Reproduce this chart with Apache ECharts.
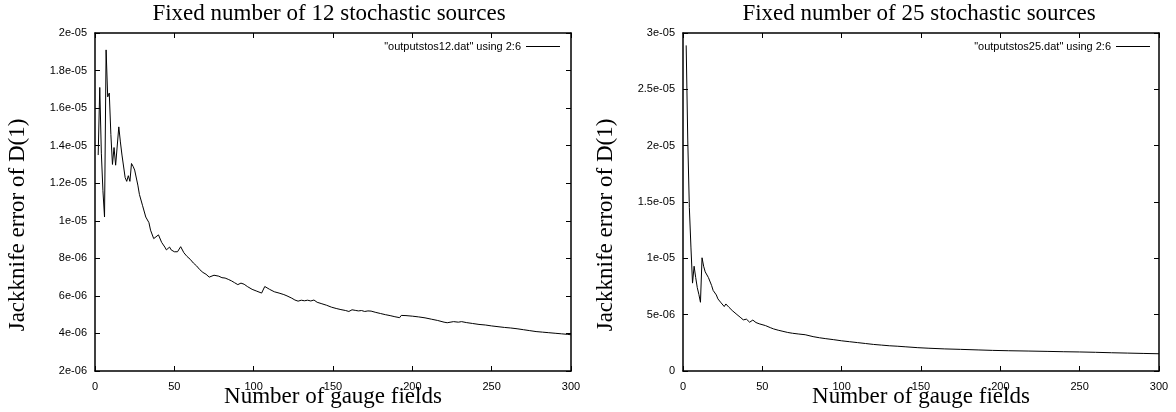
<!DOCTYPE html>
<html>
<head>
<meta charset="utf-8">
<script src="https://cdn.jsdelivr.net/npm/echarts@6/dist/echarts.min.js"></script>
<style>
  html, body { margin: 0; padding: 0; background: #fff; }
  #chart { width: 1176px; height: 412px; }
</style>
</head>
<body>
<div id="chart"></div>
<script>
  // number of gauge fields (x) and jackknife error in units of 1e-6 (y)
  var leftX = [2, 3, 4, 5, 6, 7, 8, 9, 10, 11, 12, 13, 15, 16, 17, 19, 20, 21, 22, 23, 24, 25, 27, 28, 30, 32, 34, 35, 37, 38, 40, 42, 44, 45, 47, 48, 50, 52, 53, 54, 56, 58, 60, 62, 64, 66, 68, 70, 72, 73, 75, 76, 78, 80, 82, 84, 86, 88, 90, 92, 94, 96, 99, 102, 105, 106, 107, 110, 113, 116, 119, 121, 124, 126, 128, 130, 132, 134, 136, 138, 140, 143, 146, 149, 152, 155, 158, 160, 162, 164, 166, 168, 170, 172, 174, 177, 180, 183, 186, 189, 192, 193, 196, 200, 204, 208, 212, 216, 220, 222, 223, 226, 229, 231, 234, 238, 242, 246, 250, 254, 258, 262, 266, 270, 274, 278, 282, 286, 290, 294, 298, 300];
  var leftY = [13.5, 17.1, 13.6, 11.6, 10.2, 19.1, 16.6, 16.8, 14.6, 13.0, 13.9, 12.96, 15.0, 14.2, 13.5, 12.3, 12.1, 12.4, 12.1, 13.05, 12.9, 12.7, 11.9, 11.4, 10.8, 10.2, 9.9, 9.5, 9.05, 9.1, 9.25, 8.85, 8.6, 8.45, 8.6, 8.45, 8.35, 8.35, 8.45, 8.62, 8.3, 8.1, 7.95, 7.75, 7.6, 7.4, 7.25, 7.15, 7.0, 6.92, 7.1, 7.2, 7.05, 6.97, 6.95, 6.88, 6.8, 6.7, 6.6, 6.68, 6.62, 6.5, 6.35, 6.25, 6.15, 6.12, 6.5, 6.35, 6.22, 6.15, 6.07, 6.0, 5.88, 5.78, 5.72, 5.77, 5.74, 5.77, 5.73, 5.78, 5.66, 5.58, 5.5, 5.4, 5.33, 5.27, 5.22, 5.17, 5.26, 5.23, 5.2, 5.22, 5.17, 5.2, 5.19, 5.12, 5.06, 5.0, 4.95, 4.89, 4.84, 4.96, 4.95, 4.92, 4.88, 4.83, 4.76, 4.69, 4.6, 4.57, 4.66, 4.63, 4.6, 4.63, 4.58, 4.53, 4.48, 4.45, 4.4, 4.36, 4.32, 4.29, 4.25, 4.2, 4.15, 4.1, 4.07, 4.04, 4.01, 3.98, 3.95, 3.93];

  var rightX = [2, 3, 4, 5, 6, 7, 8, 9, 10, 11, 12, 13, 14, 16, 18, 19, 21, 22, 24, 26, 27, 29, 31, 34, 36, 38, 40, 42, 44, 46, 48, 52, 55, 57, 60, 63, 66, 69, 73, 77, 82, 86, 90, 95, 100, 105, 110, 115, 120, 125, 130, 135, 140, 148, 155, 165, 175, 186, 195, 205, 218, 230, 240, 250, 260, 270, 280, 290, 300];
  var rightY = [28.9, 20.5, 14.5, 11.0, 7.8, 9.3, 8.3, 7.4, 6.8, 6.1, 10.05, 9.3, 8.8, 8.3, 7.6, 7.15, 6.75, 6.4, 6.05, 5.72, 5.95, 5.65, 5.37, 5.01, 4.78, 4.54, 4.6, 4.33, 4.52, 4.3, 4.19, 4.03, 3.85, 3.74, 3.62, 3.52, 3.42, 3.35, 3.28, 3.22, 3.05, 2.95, 2.87, 2.78, 2.68, 2.6, 2.52, 2.44, 2.36, 2.3, 2.24, 2.2, 2.15, 2.07, 2.02, 1.96, 1.92, 1.87, 1.83, 1.8, 1.77, 1.74, 1.71, 1.69, 1.66, 1.62, 1.59, 1.56, 1.53];

  var xTickLabels = ['0', '50', '100', '150', '200', '250', '300'];
  var leftYTickLabels = ['2e-06', '4e-06', '6e-06', '8e-06', '1e-05', '1.2e-05', '1.4e-05', '1.6e-05', '1.8e-05', '2e-05'];
  var rightYTickLabels = ['0', '5e-06', '1e-05', '1.5e-05', '2e-05', '2.5e-05', '3e-05'];

  var titles = ['Fixed number of 12 stochastic sources', 'Fixed number of 25 stochastic sources'];
  var seriesNames = ['"outputstos12.dat" using 2:6', '"outputstos25.dat" using 2:6'];

  function pairs(xs, ys) {
    var out = [];
    xs.forEach(function (x, i) { out.push([x, ys[i]]); });
    return out;
  }

  var sans = 'Liberation Sans, Arial, sans-serif';
  var serif = 'Liberation Serif, Times New Roman, serif';
  var frame = { show: true, onZero: false, lineStyle: { color: '#000', width: 1.5 } };
  var tick = { show: true, inside: true, length: 5, lineStyle: { color: '#000', width: 1 } };

  function xAxes(gridIndex) {
    return [
      {
        type: 'value', gridIndex: gridIndex, position: 'bottom',
        min: 0, max: 300, interval: 50,
        axisLine: frame, axisTick: tick, splitLine: { show: false },
        axisLabel: {
          margin: 10, color: '#000', fontFamily: sans, fontSize: 11,
          formatter: function (v) { return xTickLabels[Math.round(v / 50)]; }
        },
        name: 'Number of gauge fields', nameLocation: 'middle', nameGap: 14,
        nameMoveOverlap: false,
        nameTextStyle: { fontFamily: serif, fontSize: 23, color: '#000' }
      },
      {
        type: 'value', gridIndex: gridIndex, position: 'top',
        min: 0, max: 300, interval: 50,
        axisLine: frame, axisTick: tick, splitLine: { show: false },
        axisLabel: { show: false }
      }
    ];
  }

  function yAxes(gridIndex, min, max, step, labels) {
    return [
      {
        type: 'value', gridIndex: gridIndex, position: 'left',
        min: min, max: max, interval: step,
        axisLine: frame, axisTick: tick, splitLine: { show: false },
        axisLabel: {
          margin: 8, color: '#000', fontFamily: sans, fontSize: 11,
          formatter: function (v) { return labels[Math.round((v - min) / step)]; }
        },
        name: 'Jackknife error of D(1)', nameLocation: 'middle', nameGap: 66, nameRotate: 90,
        nameMoveOverlap: false,
        nameTextStyle: { fontFamily: serif, fontSize: 23, color: '#000', padding: [0, 46, 0, 0] }
      },
      {
        type: 'value', gridIndex: gridIndex, position: 'right',
        min: min, max: max, interval: step,
        axisLine: frame, axisTick: tick, splitLine: { show: false },
        axisLabel: { show: false }
      }
    ];
  }

  var chart = echarts.init(document.getElementById('chart'));

  var legendBase = {
    icon: 'rect', itemWidth: 34, itemHeight: 1, align: 'right', top: 36, padding: 5,
    textStyle: { fontFamily: sans, fontSize: 11, color: '#000' }
  };

  var option = {
    animation: false,
    backgroundColor: '#fff',
    title: [
      { text: titles[0], left: 329, textAlign: 'center', top: 2, padding: 0,
        textStyle: { fontFamily: serif, fontSize: 23, fontWeight: 'normal', color: '#000' } },
      { text: titles[1], left: 919, textAlign: 'center', top: 2, padding: 0,
        textStyle: { fontFamily: serif, fontSize: 23, fontWeight: 'normal', color: '#000' } }
    ],
    legend: [
      Object.assign({}, legendBase, { data: [seriesNames[0]], right: 611 }),
      Object.assign({}, legendBase, { data: [seriesNames[1]], right: 21 })
    ],
    grid: [
      { left: 95, right: 605, top: 33, bottom: 41, outerBoundsMode: 'none', containLabel: false },
      { left: 683, right: 17, top: 33, bottom: 41, outerBoundsMode: 'none', containLabel: false }
    ],
    xAxis: xAxes(0).concat(xAxes(1)),
    yAxis: yAxes(0, 2, 20, 2, leftYTickLabels).concat(yAxes(1, 0, 30, 5, rightYTickLabels)),
    series: [
      {
        name: seriesNames[0], type: 'line', xAxisIndex: 0, yAxisIndex: 0,
        data: pairs(leftX, leftY), showSymbol: false,
        lineStyle: { color: '#000', width: 1 }, itemStyle: { color: '#000' }
      },
      {
        name: seriesNames[1], type: 'line', xAxisIndex: 2, yAxisIndex: 2,
        data: pairs(rightX, rightY), showSymbol: false,
        lineStyle: { color: '#000', width: 1 }, itemStyle: { color: '#000' }
      }
    ]
  };

  chart.setOption(option);
</script>
</body>
</html>
